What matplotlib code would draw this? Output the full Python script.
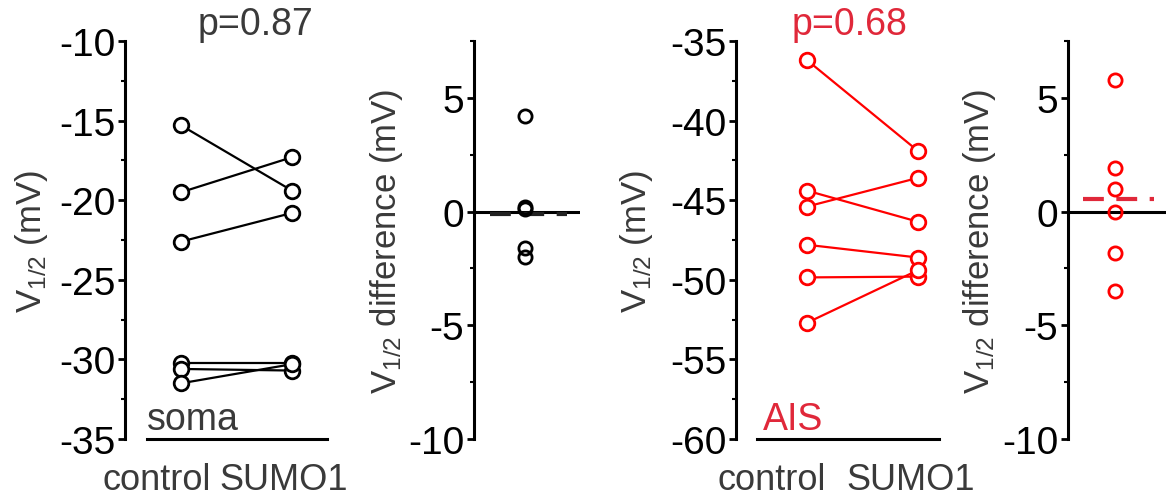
import numpy as np
import matplotlib.pyplot as plt
from matplotlib.ticker import MultipleLocator

plt.rcParams['font.family'] = ['Liberation Sans', 'DejaVu Sans']
plt.rcParams['mathtext.fontset'] = 'custom'
plt.rcParams['mathtext.rm'] = 'Liberation Sans'
plt.rcParams['mathtext.it'] = 'Liberation Sans'
plt.rcParams['axes.unicode_minus'] = False

# values (mV)
soma_control = [-15.3, -19.5, -22.6, -30.2, -30.6, -31.5]
soma_sumo1 = [-19.4, -17.3, -20.8, -30.2, -30.7, -30.3]
soma_diff = [4.2, 0.2, 0.1, -1.6, -2.0]
soma_diff_mean = -0.1

ais_control = [-36.2, -44.4, -45.4, -47.8, -49.85, -52.7]
ais_sumo1 = [-41.9, -46.35, -43.6, -48.6, -49.8, -49.4]
ais_diff = [5.8, 1.9, 1.0, 0.0, -1.8, -3.5]
ais_diff_mean = 0.55

groups = ["control", "SUMO1"]
grey = "#3a3a3a"
red = "#ff0000"
red_text = "#e0283a"

W, H = 1166, 502
fig = plt.figure(figsize=(W / 100, H / 100), dpi=100)


def box(x0, x1, y0=42, y1=440):
    return [x0 / W, 1 - y1 / H, (x1 - x0) / W, (y1 - y0) / H]


def style(ax, major, minor):
    for s in ["top", "right", "bottom"]:
        ax.spines[s].set_visible(False)
    ax.spines["left"].set_linewidth(2.2)
    ax.yaxis.set_major_locator(MultipleLocator(major))
    ax.yaxis.set_minor_locator(MultipleLocator(minor))
    ax.tick_params(axis="y", which="major", length=5, width=2, labelsize=28, pad=2)
    ax.tick_params(axis="y", which="minor", length=3, width=1.5)
    ax.set_xticks([])


def paired(ax, ctrl, sumo, color):
    for a, b in zip(ctrl, sumo):
        ax.plot([1, 2], [a, b], color=color, lw=1.6, marker="o", ms=10.5,
                mfc="white", mec=color, mew=2, zorder=3)


def diff(ax, vals, mean, color, mcolor):
    ax.axhline(0, color="black", lw=2.2, zorder=2)
    ax.plot(np.full(len(vals), 0.48), vals, ls="none", marker="o", ms=9.5,
            mfc="none", mec=color, mew=2, zorder=3)
    ax.axhline(mean, xmin=0.15, xmax=0.88, color=mcolor, lw=3,
               ls=(0, (5, 3)), zorder=2)


ylab = r"V$_{\mathregular{1/2}}$ (mV)"
ylab_d = r"V$_{\mathregular{1/2}}$ difference (mV)"

# soma paired
ax1 = fig.add_axes(box(125, 345))
paired(ax1, soma_control, soma_sumo1, "black")
ax1.set_xlim(0.495, 2.477)
ax1.set_ylim(-35, -10)
style(ax1, 5, 2.5)
ax1.axhline(-35, xmin=0.10, xmax=0.92, color="black", lw=2.2, clip_on=False)
ax1.set_ylabel(ylab, fontsize=25, color=grey)
ax1.yaxis.set_label_coords(-0.34, 0.5)

# soma difference
ax2 = fig.add_axes(box(474, 580))
diff(ax2, soma_diff, soma_diff_mean, "black", "#222222")
ax2.set_xlim(0, 1)
ax2.set_ylim(-10, 7.5)
style(ax2, 5, 2.5)
ax2.set_ylabel(ylab_d, fontsize=25, color=grey)
ax2.yaxis.set_label_coords(-0.65, 0.5)

# AIS paired
ax3 = fig.add_axes(box(736, 950))
paired(ax3, ais_control, ais_sumo1, red)
ax3.set_xlim(0.36, 2.29)
ax3.set_ylim(-60, -35)
style(ax3, 5, 2.5)
ax3.axhline(-60, xmin=0.10, xmax=0.95, color="black", lw=2.2, clip_on=False)
ax3.set_ylabel(ylab, fontsize=25, color=grey)
ax3.yaxis.set_label_coords(-0.38, 0.5)

# AIS difference
ax4 = fig.add_axes(box(1068, 1166))
diff(ax4, ais_diff, ais_diff_mean, red, red_text)
ax4.set_xlim(0, 1)
ax4.set_ylim(-10, 7.5)
style(ax4, 5, 2.5)
ax4.set_ylabel(ylab_d, fontsize=25, color=grey)
ax4.yaxis.set_label_coords(-0.71, 0.5)

# region names, group labels and p values
fig.text(147 / W, 1 - 430 / H, "soma", fontsize=27, color=grey, va="baseline")
fig.text(763 / W, 1 - 430 / H, "AIS", fontsize=27, color=red_text, va="baseline")
for xc, xs in [(157, 284), (772, 911)]:
    fig.text(xc / W, 1 - 490 / H, groups[0], fontsize=26, color=grey,
             ha="center", va="baseline")
    fig.text(xs / W, 1 - 490 / H, groups[1], fontsize=26, color=grey,
             ha="center", va="baseline")
fig.text(255 / W, 1 - 35 / H, "p=0.87", fontsize=27, color=grey,
         ha="center", va="baseline")
fig.text(850 / W, 1 - 35 / H, "p=0.68", fontsize=27, color=red_text,
         ha="center", va="baseline")

fig.savefig("out.png", dpi=100)
